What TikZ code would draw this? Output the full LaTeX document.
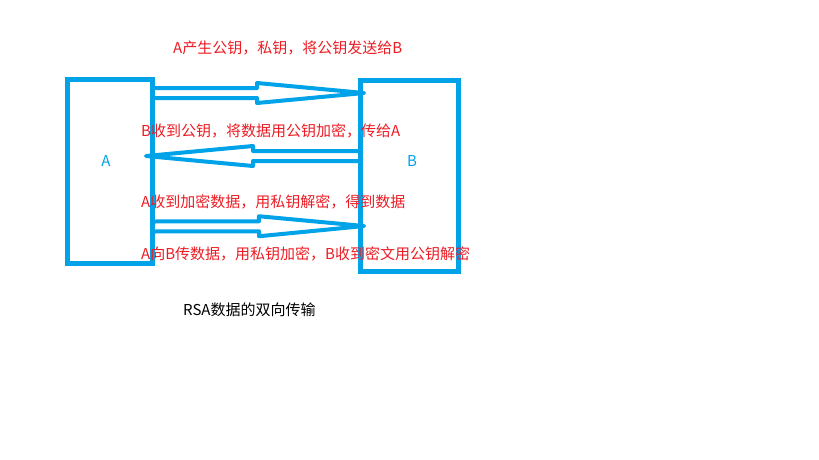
\documentclass[tikz,border=0pt]{standalone}
\usepackage{fontspec}
\setmainfont{Noto Sans CJK SC}
\usetikzlibrary{calc}
\definecolor{pblue}{RGB}{0,162,232}
\definecolor{pred}{RGB}{237,28,36}
\newcommand\hollowarr[3]{% #1 start, #2 tip, #3 head length
  \coordinate (hb) at ($(#2)!#3!(#1)$);
  \draw[arrline] ($(#1)!5pt!90:(#2)$) -- ($(hb)!5pt!-90:(#1)$) -- ($(hb)!10pt!-90:(#1)$)
    -- (#2) -- ($(hb)!10pt!90:(#1)$) -- ($(hb)!5pt!90:(#1)$) -- ($(#1)!5pt!-90:(#2)$);
}
\begin{document}
\begin{tikzpicture}[x=1pt,y=-1pt,
  box/.style={draw=pblue,line width=5pt,inner sep=0pt},
  arrline/.style={draw=pblue,line width=4pt,line join=round},
  msg/.style={anchor=west,inner sep=0pt,text=pred,font=\fontsize{15}{18}\selectfont},
  lbl/.style={inner sep=0pt,text=pblue,font=\fontsize{15}{18}\selectfont}]
\fill[white] (0,0) rectangle (819,460);
\useasboundingbox (0,0) rectangle (819,460);
% boxes
\node[box,minimum width=85pt,minimum height=184pt] (boxA) at (110,171) {};
\node[box,minimum width=97.5pt,minimum height=191.5pt] (boxB) at (409.25,175.75) {};
\node[lbl] (labA) at (106,161) {A};
\node[lbl] (labB) at (412,161.5) {B};
% arrow end points
\coordinate (a1s) at (boxA.east |- 0,93);
\coordinate (a1t) at (364,93);
\coordinate (a2s) at (boxB.west |- 0,156);
\coordinate (a2t) at (146,156);
\coordinate (a3s) at (boxA.east |- 0,226.5);
\coordinate (a3t) at (364,226);
\hollowarr{a1s}{a1t}{107pt}
\hollowarr{a2s}{a2t}{107pt}
\hollowarr{a3s}{a3t}{105pt}
% texts
\node[msg] (t1) at (173,48) {A产生公钥，私钥，将公钥发送给B};
\node[msg] (t2) at (141,131) {B收到公钥，将数据用公钥加密，传给A};
\node[msg] (t3) at (141,202) {A收到加密数据，用私钥解密，得到数据};
\node[msg] (t4) at (141,254) {A向B传数据，用私钥加密，B收到密文用公钥解密};
\node[msg,text=black] (cap) at (183,310) {RSA数据的双向传输};
\end{tikzpicture}
\end{document}
